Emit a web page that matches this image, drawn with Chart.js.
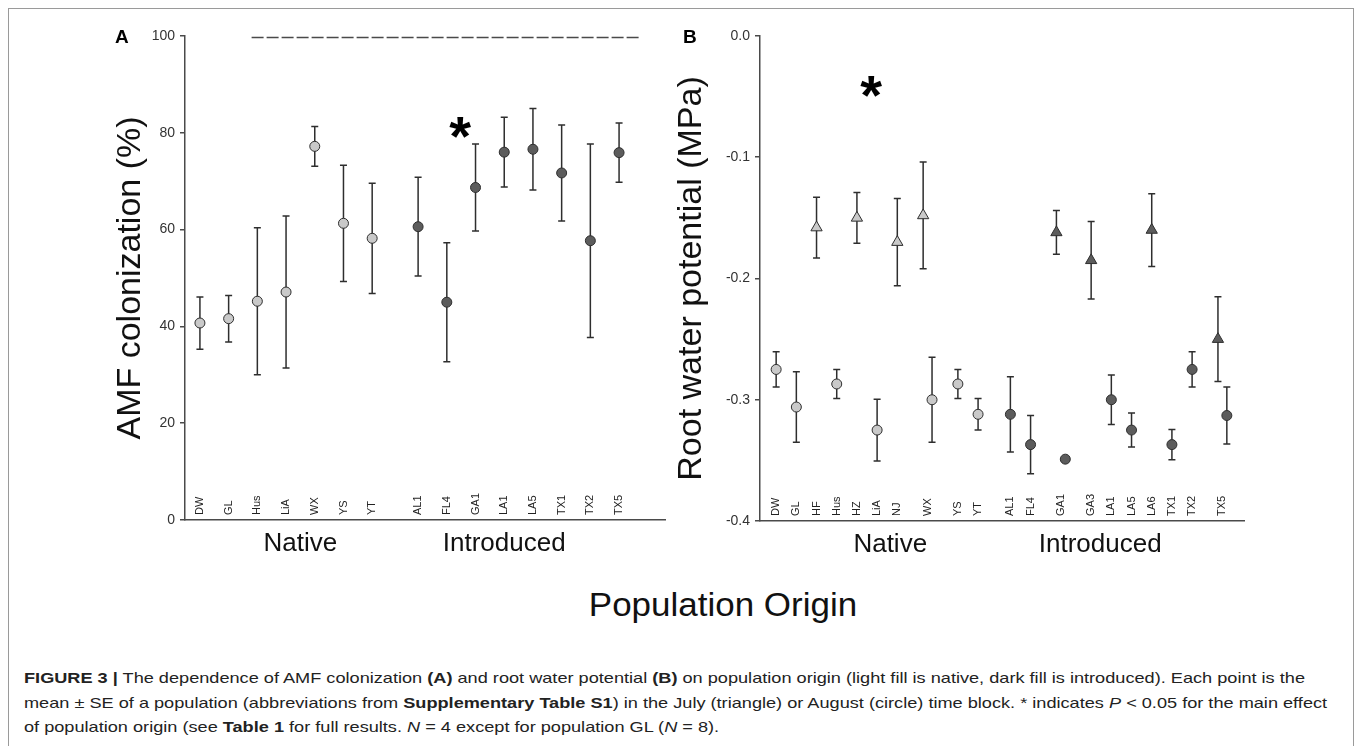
<!DOCTYPE html>
<html>
<head>
<meta charset="utf-8">
<script src="https://cdn.jsdelivr.net/npm/chart.js@4.4.1/dist/chart.umd.min.js"></script>
<style>
  body { margin: 0; background: #fff; width: 1357px; height: 746px; overflow: hidden; position: relative;
         font-family: 'Liberation Sans', Arial, sans-serif; }
  .frame { position: absolute; left: 8px; top: 8px; width: 1346px; height: 780px; border: 1px solid #9a9a9a; box-sizing: border-box; }
  canvas { position: absolute; top: 0; }
  #chartA { left: 0; }
  #chartB { left: 620px; }
  .origin { position: absolute; left: 473px; width: 500px; top: 585px; text-align: center; font-size: 33px; color: #111;
            line-height: 40px; transform: scaleX(1.06); }
  .caption { position: absolute; left: 24px; top: 666px; font-size: 15px; line-height: 24.5px; color: #222; white-space: nowrap;
             transform: scaleX(1.21); transform-origin: 0 0; }
</style>
</head>
<body>
<div class="frame"></div>
<canvas id="chartA" width="700" height="580"></canvas>
<canvas id="chartB" width="737" height="580"></canvas>
<div class="origin">Population Origin</div>
<div class="caption">
<b>FIGURE 3 |</b> The dependence of AMF colonization <b>(A)</b> and root water potential <b>(B)</b> on population origin (light fill is native, dark fill is introduced). Each point is the<br>
mean ± SE of a population (abbreviations from <b>Supplementary Table S1</b>) in the July (triangle) or August (circle) time block. * indicates <i>P</i> &lt; 0.05 for the main effect<br>
of population origin (see <b>Table 1</b> for full results. <i>N</i> = 4 except for population GL (<i>N</i> = 8).
</div>

<script>
// --- panel A: AMF colonization (%), all August (circles)
const amfPops   = ['DW', 'GL', 'Hus', 'LiA', 'WX', 'YS', 'YT', 'AL1', 'FL4', 'GA1', 'LA1', 'LA5', 'TX1', 'TX2', 'TX5'];
const amfOrigin = ['N', 'N', 'N', 'N', 'N', 'N', 'N', 'I', 'I', 'I', 'I', 'I', 'I', 'I', 'I'];
const amfMean   = [40.7, 41.6, 45.2, 47.1, 77.2, 61.3, 58.2, 60.6, 45.0, 68.7, 76.0, 76.6, 71.7, 57.7, 75.9];
const amfSE     = [5.4, 4.8, 15.2, 15.7, 4.1, 12.0, 11.4, 10.2, 12.3, 9.0, 7.2, 8.4, 9.9, 20.0, 6.1];

// --- panel B: root water potential (MPa), July = triangle, August = circle
const rwpPops   = ['DW', 'GL', 'HF', 'Hus', 'HZ', 'LiA', 'NJ', 'WX', 'YS', 'YT',
                   'AL1', 'FL4', 'GA1', 'GA3', 'LA1', 'LA5', 'LA6', 'TX1', 'TX2', 'TX5'];
const rwpOrigin = ['N', 'N', 'N', 'N', 'N', 'N', 'N', 'N', 'N', 'N',
                   'I', 'I', 'I', 'I', 'I', 'I', 'I', 'I', 'I', 'I'];
const julyMean  = [null, null, -0.158, null, -0.150, null, -0.170, -0.148, null, null,
                   null, null, -0.162, -0.185, null, null, -0.160, null, null, -0.250];
const julySE    = [null, null, 0.025, null, 0.021, null, 0.036, 0.044, null, null,
                   null, null, 0.018, 0.032, null, null, 0.030, null, null, 0.035];
const augMean   = [-0.275, -0.306, null, -0.287, null, -0.325, null, -0.300, -0.287, -0.312,
                   -0.312, -0.337, -0.349, null, -0.300, -0.325, null, -0.337, -0.275, -0.313];
const augSE     = [0.0145, 0.029, null, 0.012, null, 0.0255, null, 0.035, 0.012, 0.013,
                   0.031, 0.024, 0, null, 0.0205, 0.014, null, 0.0125, 0.0145, 0.0235];

const groupNames = ['Native', 'Introduced'];
const groupLabelA = [3.5, 10.6];    // x (slot units) of the group names under panel A
const groupLabelB = [5.65, 16.05];  // same for panel B
const starA = { x: 9.06, y: 81 };
const starB = { x: 4.7, y: -0.042 };
const dashA = { from: 1.8, to: 15.3, y: 99.7 };

const lightFill = '#c9c9c9';
const darkFill = '#5c5c5c';
const ink = '#2e2e2e';
const axisColor = '#4a4a4a';
const GROUP_GAP = 0.6;   // extra slot between Native and Introduced
const PAIR_SHIFT = 0.22; // triangle/circle offset when a population has both

Chart.defaults.font.family = "'Liberation Sans', Arial, sans-serif";

// slot positions: one per population, pairs take an extra half slot each side
function slotPositions(origin, paired) {
  const pos = [];
  let p = 0;
  origin.forEach((g, i) => {
    if (i > 0) {
      p += 1;
      if (g !== origin[i - 1]) p += GROUP_GAP;
      if (paired[i]) p += 0.5;
      if (paired[i - 1]) p += 0.5;
    }
    pos.push(p);
  });
  return pos;
}

function pts(pos, means, ses, keep, shift) {
  const out = [];
  means.forEach((m, i) => {
    if (m === null || !keep(i)) return;
    out.push({ x: pos[i] + shift(i), y: m, se: ses[i] });
  });
  return out;
}

const errorBars = {
  id: 'errorBars',
  beforeDatasetsDraw(chart) {
    const { ctx, scales: { x, y } } = chart;
    ctx.save();
    ctx.strokeStyle = ink;
    ctx.lineWidth = 1.5;
    chart.data.datasets.forEach(ds => {
      ds.data.forEach(d => {
        if (!d.se) return;
        const px = x.getPixelForValue(d.x);
        const top = y.getPixelForValue(d.y + d.se);
        const bot = y.getPixelForValue(d.y - d.se);
        ctx.beginPath();
        ctx.moveTo(px, top); ctx.lineTo(px, bot);
        ctx.moveTo(px - 3.5, top); ctx.lineTo(px + 3.5, top);
        ctx.moveTo(px - 3.5, bot); ctx.lineTo(px + 3.5, bot);
        ctx.stroke();
      });
    });
    ctx.restore();
  }
};

const panelText = {
  id: 'panelText',
  afterDraw(chart, args, o) {
    const { ctx, chartArea, scales: { x, y } } = chart;
    ctx.save();
    // rotated population labels inside the plot
    ctx.fillStyle = '#222';
    ctx.font = "11px 'Liberation Sans', Arial, sans-serif";
    ctx.textAlign = 'left';
    ctx.textBaseline = 'middle';
    o.names.forEach((n, i) => {
      ctx.save();
      ctx.translate(x.getPixelForValue(o.pos[i]), chartArea.bottom - 5);
      ctx.rotate(-Math.PI / 2);
      ctx.fillText(n, 0, 0);
      ctx.restore();
    });
    // group names below the axis
    ctx.fillStyle = '#111';
    ctx.font = "26px 'Liberation Sans', Arial, sans-serif";
    ctx.textAlign = 'center';
    o.groups.forEach((gx, i) => ctx.fillText(groupNames[i], x.getPixelForValue(gx), chartArea.bottom + 24));
    // significance star
    ctx.font = "bold 56px 'Liberation Sans', Arial, sans-serif";
    ctx.textBaseline = 'alphabetic';
    const m = ctx.measureText('*');
    const sx = x.getPixelForValue(o.star.x);
    const sy = y.getPixelForValue(o.star.y);
    ctx.fillStyle = '#000';
    ctx.fillText('*', sx, sy + (m.actualBoundingBoxAscent - m.actualBoundingBoxDescent) / 2);
    // panel letter
    ctx.font = "bold 19px 'Liberation Sans', Arial, sans-serif";
    ctx.textAlign = 'left';
    ctx.fillText(o.letter, chartArea.left + o.letterDx, 43);
    ctx.restore();
  }
};

function yAxis(min, max, step, fmt, title, padTop, width) {
  return {
    type: 'linear', min, max,
    ticks: { stepSize: step, padding: 5, color: '#333', font: { size: 14 }, callback: fmt },
    grid: { drawOnChartArea: false, tickLength: 5, color: axisColor, lineWidth: 1.5 },
    border: { color: axisColor, width: 1.5 },
    title: { display: true, text: title, color: '#111', font: { size: 34 }, padding: { top: padTop, bottom: 0 } },
    afterFit: s => { s.width = width; }
  };
}

function xAxis(min, max) {
  return {
    type: 'linear', min, max,
    ticks: { display: false },
    grid: { display: false, drawTicks: false },
    border: { color: axisColor, width: 1.5 },
    afterFit: s => { s.height = 0; }
  };
}

function pointSet(data, fill, style, radius) {
  return {
    data, backgroundColor: fill, borderColor: ink, borderWidth: 1,
    pointStyle: style, pointRadius: radius, showLine: false
  };
}

const baseOptions = {
  responsive: false, animation: false, events: [],
  plugins: { legend: { display: false }, tooltip: { enabled: false } }
};

// Panel A
const posA = slotPositions(amfOrigin, amfPops.map(() => false));
const noShift = () => 0;
new Chart(document.getElementById('chartA'), {
  type: 'scatter',
  data: {
    datasets: [
      { data: [{ x: dashA.from, y: dashA.y }, { x: dashA.to, y: dashA.y }], showLine: true,
        borderColor: axisColor, borderWidth: 1.5, borderDash: [12, 3], pointRadius: 0 },
      pointSet(pts(posA, amfMean, amfSE, i => amfOrigin[i] === 'N', noShift), lightFill, 'circle', 5),
      pointSet(pts(posA, amfMean, amfSE, i => amfOrigin[i] === 'I', noShift), darkFill, 'circle', 5)
    ]
  },
  options: {
    ...baseOptions,
    layout: { padding: { left: 100, top: 36, right: 35, bottom: 60 } },
    scales: {
      x: xAxis(-0.52, 16.2),
      y: yAxis(0, 100, 20, v => String(v), 'AMF colonization (%)', 10.6, 85)
    },
    plugins: {
      ...baseOptions.plugins,
      panelText: { names: amfPops, pos: posA, groups: groupLabelA, star: starA, letter: 'A', letterDx: -70 }
    }
  },
  plugins: [errorBars, panelText]
});

// Panel B
const paired = rwpPops.map((_, i) => julyMean[i] !== null && augMean[i] !== null);
const posB = slotPositions(rwpOrigin, paired);
const triShift = i => (paired[i] ? -PAIR_SHIFT : 0);
const cirShift = i => (paired[i] ? PAIR_SHIFT : 0);
new Chart(document.getElementById('chartB'), {
  type: 'scatter',
  data: {
    datasets: [
      pointSet(pts(posB, augMean, augSE, i => rwpOrigin[i] === 'N', cirShift), lightFill, 'circle', 5),
      pointSet(pts(posB, augMean, augSE, i => rwpOrigin[i] === 'I', cirShift), darkFill, 'circle', 5),
      pointSet(pts(posB, julyMean, julySE, i => rwpOrigin[i] === 'N', triShift), lightFill, 'triangle', 6.5),
      pointSet(pts(posB, julyMean, julySE, i => rwpOrigin[i] === 'I', triShift), darkFill, 'triangle', 6.5)
    ]
  },
  options: {
    ...baseOptions,
    layout: { padding: { left: 40, top: 36, right: 113, bottom: 59 } },
    scales: {
      x: xAxis(-0.8, 23.17),
      y: yAxis(-0.4, 0, 0.1, v => v.toFixed(1), 'Root water potential (MPa)', 11.6, 100)
    },
    plugins: {
      ...baseOptions.plugins,
      panelText: { names: rwpPops, pos: posB, groups: groupLabelB, star: starB, letter: 'B', letterDx: -77 }
    }
  },
  plugins: [errorBars, panelText]
});
</script>
</body>
</html>
